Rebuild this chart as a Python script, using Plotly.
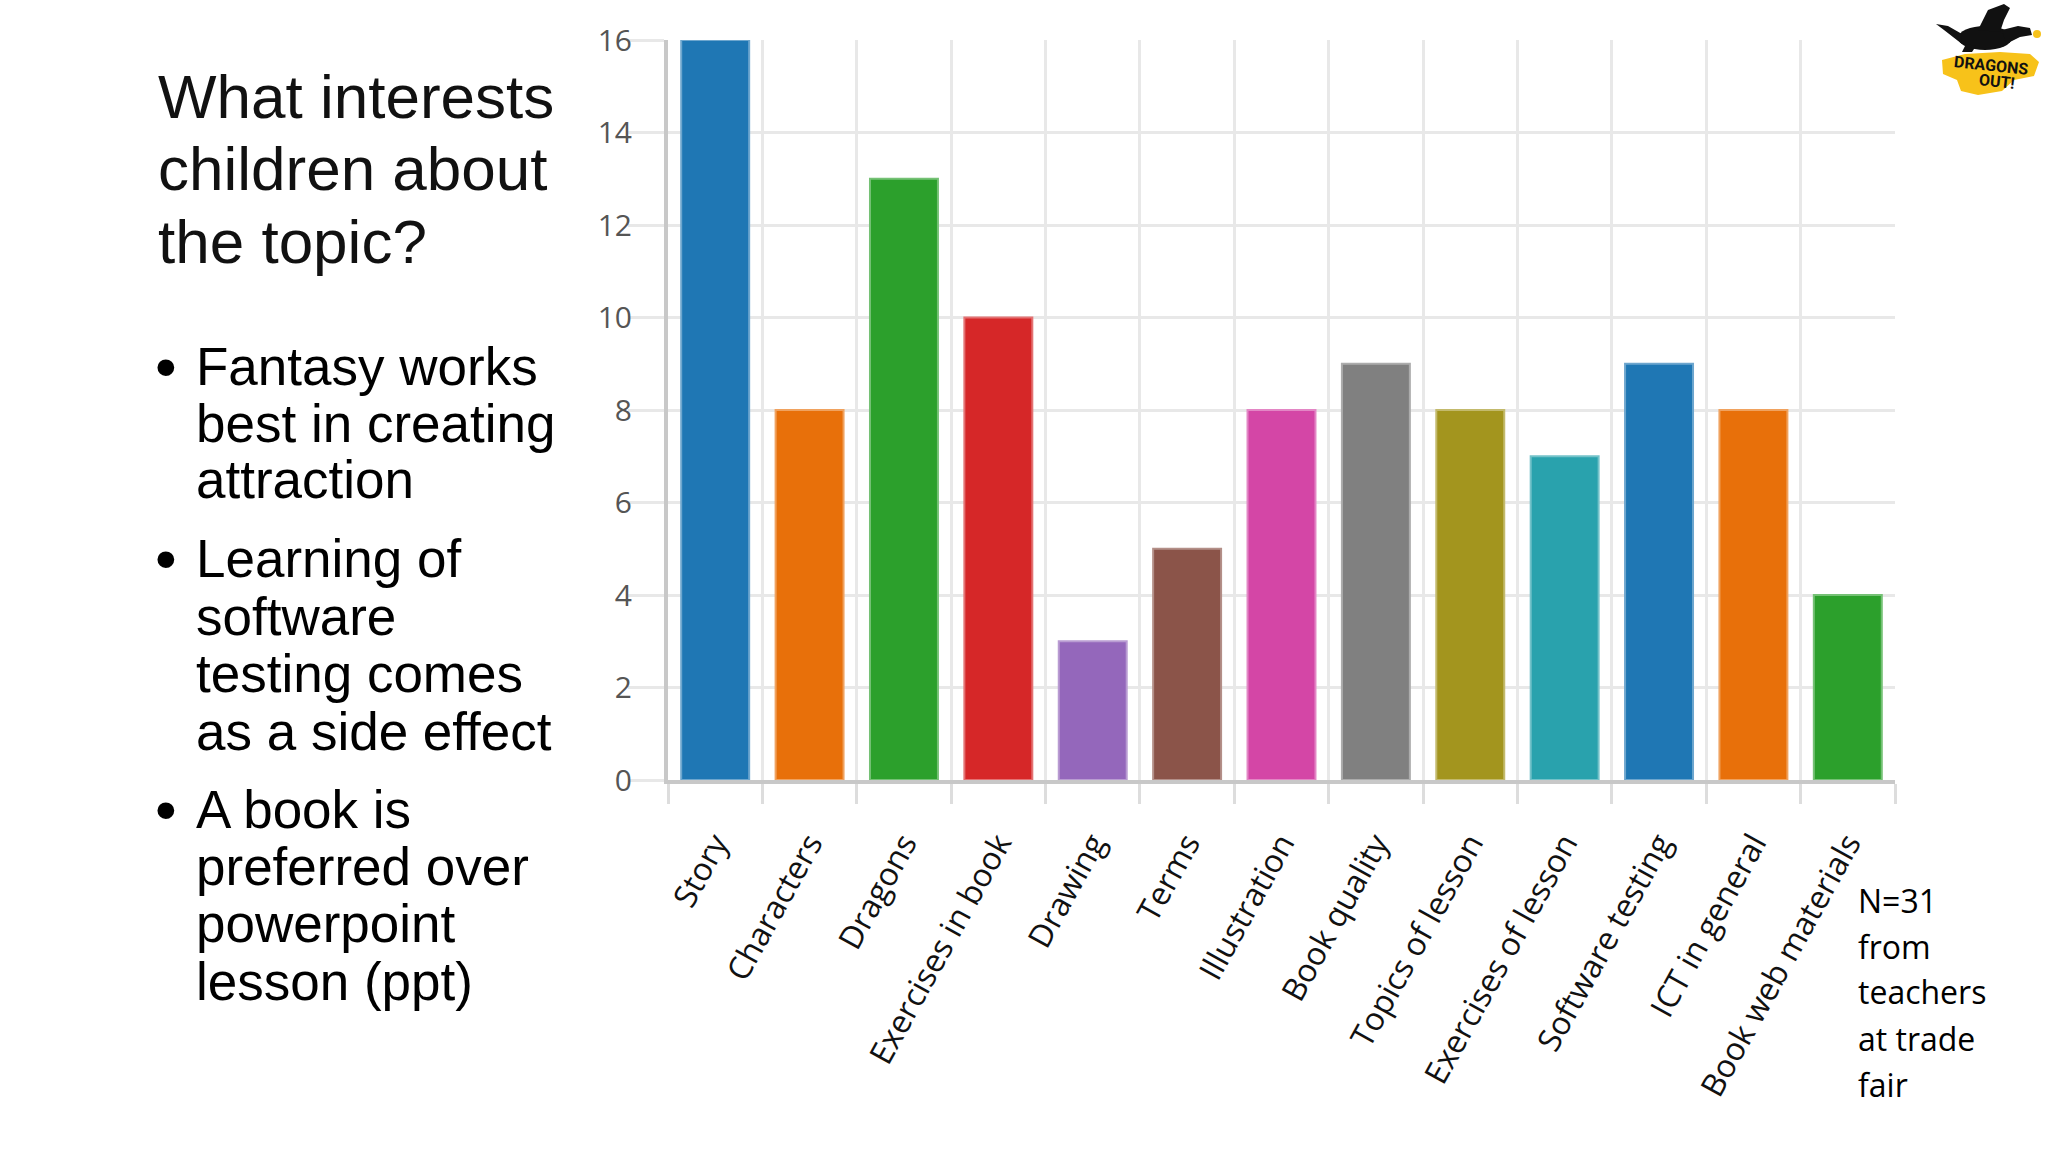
import plotly.graph_objects as go

# ---------------- data ----------------
categories = ["Story", "Characters", "Dragons", "Exercises in book", "Drawing",
              "Terms", "Illustration", "Book quality", "Topics of lesson",
              "Exercises of lesson", "Software testing", "ICT in general",
              "Book web materials"]
counts = [16, 8, 13, 10, 3, 5, 8, 9, 8, 7, 9, 8, 4]
bar_colors = ["#1f77b4", "#e8700a", "#2ca02c", "#d62728", "#9467bb", "#8b5449",
              "#d446a6", "#808080", "#a3951e", "#29a2ad", "#1f77b4", "#e8700a",
              "#2ca02c"]
y_ticks = [0, 2, 4, 6, 8, 10, 12, 14, 16]

title_lines = ["What interests", "children about", "the topic?"]
bullets = [
    ["Fantasy works", "best in creating", "attraction"],
    ["Learning of", "software", "testing comes", "as a side effect"],
    ["A book is", "preferred over", "powerpoint", "lesson (ppt)"],
]
note_lines = ["N=31", "from", "teachers", "at trade", "fair"]

# ---------------- geometry helpers ----------------
W, H = 2048, 1152
L, R, T, B = 668, 1895, 40, 780          # plot area in pixels
FONT = "Open Sans"
BODY_FONT = "Liberation Sans"


def px(x):
    return (x - L) / (R - L)


def py(y):
    return (B - y) / (B - T)


def lighten(hex_color, f=0.35):
    h = hex_color.lstrip("#")
    r, g, b = int(h[0:2], 16), int(h[2:4], 16), int(h[4:6], 16)
    r = int(r + (255 - r) * f)
    g = int(g + (255 - g) * f)
    b = int(b + (255 - b) * f)
    return f"#{r:02x}{g:02x}{b:02x}"


fig = go.Figure()
fig.add_trace(go.Bar(
    x=categories, y=counts,
    marker=dict(color=bar_colors,
                line=dict(color=[lighten(c) for c in bar_colors], width=2)),
    hoverinfo="x+y", showlegend=False,
))

annotations = []


def text_line(txt, x, baseline, size, family=FONT, off=0.36, color="#000000"):
    annotations.append(dict(
        text=txt, xref="paper", yref="paper",
        x=px(x), y=py(baseline - off * size),
        xanchor="left", yanchor="middle", showarrow=False,
        font=dict(family=family, size=size, color=color),
    ))


# title
for line, base in zip(title_lines, [118, 190, 263]):
    text_line(line, 156, base, 62, family=BODY_FONT, off=0.35, color="#111111")

# bullets
bullet_bases = [[385, 442, 498], [577, 635, 692, 750], [828, 885, 942, 1000]]
for lines, bases in zip(bullets, bullet_bases):
    text_line("•", 153, bases[0] + 3, 62, family=BODY_FONT, off=0.35)
    for line, base in zip(lines, bases):
        text_line(line, 194, base, 53, family=BODY_FONT, off=0.35)

# note on the right
for line, base in zip(note_lines, [912, 958, 1003, 1050, 1096]):
    text_line(line, 1856, base, 32)

# ---------------- logo (approximation) ----------------
shapes = []


def path_from(points, close=True):
    s = "M " + " L ".join(f"{px(x):.5f},{py(y):.5f}" for x, y in points)
    return s + (" Z" if close else "")


# yellow blob
shapes.append(dict(type="path", xref="paper", yref="paper", layer="above",
                   path=path_from([(1942, 60), (1965, 54), (2000, 52), (2030, 54),
                                   (2039, 62), (2034, 76), (2014, 80), (2002, 91),
                                   (1978, 95), (1961, 91), (1957, 80), (1943, 74)]),
                   fillcolor="#f7c21a", line=dict(width=0)))
# dragon body
shapes.append(dict(type="circle", xref="paper", yref="paper", layer="above",
                   x0=px(1958), x1=px(2012), y0=py(50), y1=py(26),
                   fillcolor="#111111", line=dict(width=0)))
# wing
shapes.append(dict(type="path", xref="paper", yref="paper", layer="above",
                   path=path_from([(1978, 30), (1988, 10), (2004, 4), (2010, 8),
                                   (2004, 20), (2000, 32)]),
                   fillcolor="#111111", line=dict(width=0)))
# neck + head
shapes.append(dict(type="path", xref="paper", yref="paper", layer="above",
                   path=path_from([(2002, 30), (2018, 26), (2030, 28), (2032, 35),
                                   (2020, 37), (2006, 44)]),
                   fillcolor="#111111", line=dict(width=0)))
# tail
shapes.append(dict(type="path", xref="paper", yref="paper", layer="above",
                   path=path_from([(1962, 34), (1948, 26), (1936, 24), (1944, 30),
                                   (1962, 44)]),
                   fillcolor="#111111", line=dict(width=0)))
# legs
shapes.append(dict(type="path", xref="paper", yref="paper", layer="above",
                   path=path_from([(1966, 44), (1962, 52), (1972, 52), (1976, 46)]),
                   fillcolor="#111111", line=dict(width=0)))
# fire
shapes.append(dict(type="circle", xref="paper", yref="paper", layer="above",
                   x0=px(2033), x1=px(2041), y0=py(38), y1=py(30),
                   fillcolor="#f7c21a", line=dict(width=0)))

annotations.append(dict(text="<b>DRAGONS</b>", xref="paper", yref="paper",
                        x=px(1991), y=py(65), xanchor="center", yanchor="middle",
                        textangle=6, showarrow=False,
                        font=dict(family="Roboto", size=16, color="#111111")))
annotations.append(dict(text="<b>OUT!</b>", xref="paper", yref="paper",
                        x=px(1997), y=py(81), xanchor="center", yanchor="middle",
                        textangle=6, showarrow=False,
                        font=dict(family="Roboto", size=16, color="#111111")))

fig.update_layout(
    width=W, height=H,
    margin=dict(l=L, r=W - R, t=T, b=H - B, pad=0),
    paper_bgcolor="white", plot_bgcolor="white",
    bargap=0.28,
    annotations=annotations,
    shapes=shapes,
    font=dict(family=FONT),
    xaxis=dict(
        type="category", tickson="boundaries",
        ticks="outside", ticklen=20, tickwidth=3, tickcolor="#dddddd",
        showgrid=True, gridcolor="#e8e8e8", gridwidth=3,
        showline=True, linecolor="#c8c8c8", linewidth=4,
        tickangle=-61, ticklabelstandoff=28,
        tickfont=dict(family=FONT, size=32, color="#111111"),
        fixedrange=True,
    ),
    yaxis=dict(
        range=[0, 16], tickvals=y_ticks,
        ticks="outside", ticklen=36, tickwidth=3, tickcolor="#e8e8e8",
        showgrid=True, gridcolor="#e8e8e8", gridwidth=3,
        showline=True, linecolor="#c8c8c8", linewidth=4, zeroline=False,
        tickfont=dict(family=FONT, size=30, color="#555555"),
        ticklabelstandoff=-10,
        fixedrange=True,
    ),
)

fig.write_html("out.html",
               post_script="document.body.style.margin='0';document.body.style.overflow='hidden';",
               config={"displayModeBar": False})
